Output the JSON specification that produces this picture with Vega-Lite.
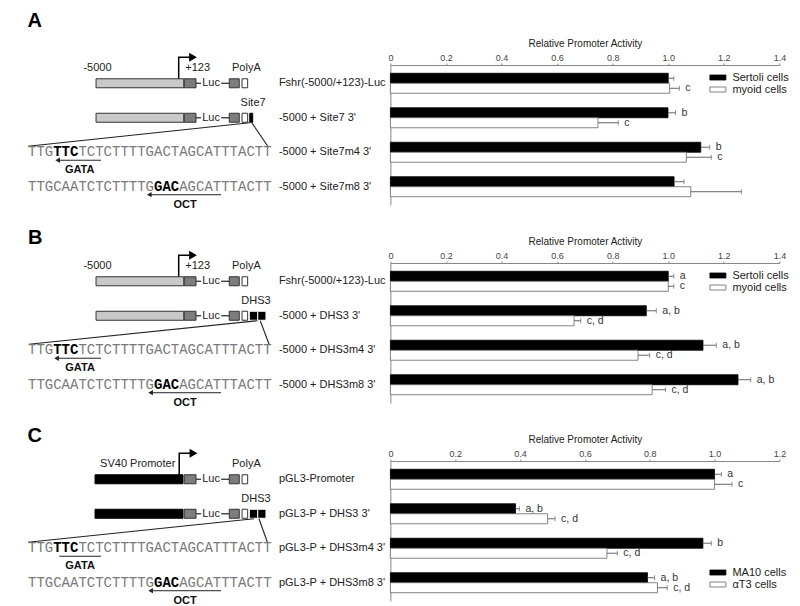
{
"$schema": "https://vega.github.io/schema/vega-lite/v6.json",
"padding": {"left": 27, "top": 10, "right": 18, "bottom": 4},
"columns": 2,
"bounds": "flush",
"spacing": {"row": 58, "column": 118.4},
"resolve": {"scale": {"fill": "independent", "stroke": "independent"}, "legend": {"fill": "independent", "stroke": "independent"}},
"config": {"view": {"stroke": null}, "font": "Liberation Sans",
  "axis": {"grid": false, "domainColor": "#888", "tickColor": "#888", "labelColor": "#444", "titleFontWeight": "normal", "titleColor": "#222"},
  "title": {"font": "Liberation Sans", "color": "#000"}},
"datasets": {
 "bars": [
  {"panel":"A","row":1,"construct":"Fshr(-5000/+123)-Luc","cell":"Sertoli cells","value":1.0,"hi":1.02,"sig":""},
  {"panel":"A","row":1,"construct":"Fshr(-5000/+123)-Luc","cell":"myoid cells","value":1.005,"hi":1.04,"sig":"c"},
  {"panel":"A","row":2,"construct":"-5000 + Site7 3'","cell":"Sertoli cells","value":0.999,"hi":1.026,"sig":"b"},
  {"panel":"A","row":2,"construct":"-5000 + Site7 3'","cell":"myoid cells","value":0.747,"hi":0.82,"sig":"c"},
  {"panel":"A","row":3,"construct":"-5000 + Site7m4 3'","cell":"Sertoli cells","value":1.117,"hi":1.149,"sig":"b"},
  {"panel":"A","row":3,"construct":"-5000 + Site7m4 3'","cell":"myoid cells","value":1.065,"hi":1.155,"sig":"c"},
  {"panel":"A","row":4,"construct":"-5000 + Site7m8 3'","cell":"Sertoli cells","value":1.021,"hi":1.057,"sig":""},
  {"panel":"A","row":4,"construct":"-5000 + Site7m8 3'","cell":"myoid cells","value":1.081,"hi":1.263,"sig":""},
  {"panel":"B","row":1,"construct":"Fshr(-5000/+123)-Luc","cell":"Sertoli cells","value":1.0,"hi":1.02,"sig":"a"},
  {"panel":"B","row":1,"construct":"Fshr(-5000/+123)-Luc","cell":"myoid cells","value":1.0,"hi":1.02,"sig":"c"},
  {"panel":"B","row":2,"construct":"-5000 + DHS3 3'","cell":"Sertoli cells","value":0.921,"hi":0.957,"sig":"a, b"},
  {"panel":"B","row":2,"construct":"-5000 + DHS3 3'","cell":"myoid cells","value":0.661,"hi":0.685,"sig":"c, d"},
  {"panel":"B","row":3,"construct":"-5000 + DHS3m4 3'","cell":"Sertoli cells","value":1.125,"hi":1.173,"sig":"a, b"},
  {"panel":"B","row":3,"construct":"-5000 + DHS3m4 3'","cell":"myoid cells","value":0.891,"hi":0.933,"sig":"c, d"},
  {"panel":"B","row":4,"construct":"-5000 + DHS3m8 3'","cell":"Sertoli cells","value":1.251,"hi":1.297,"sig":"a, b"},
  {"panel":"B","row":4,"construct":"-5000 + DHS3m8 3'","cell":"myoid cells","value":0.942,"hi":0.99,"sig":"c, d"},
  {"panel":"C","row":1,"construct":"pGL3-Promoter","cell":"MA10 cells","value":1.0,"hi":1.021,"sig":"a"},
  {"panel":"C","row":1,"construct":"pGL3-Promoter","cell":"αT3 cells","value":1.0,"hi":1.054,"sig":"c"},
  {"panel":"C","row":2,"construct":"pGL3-P + DHS3 3'","cell":"MA10 cells","value":0.386,"hi":0.398,"sig":"a, b"},
  {"panel":"C","row":2,"construct":"pGL3-P + DHS3 3'","cell":"αT3 cells","value":0.485,"hi":0.508,"sig":"c, d"},
  {"panel":"C","row":3,"construct":"pGL3-P + DHS3m4 3'","cell":"MA10 cells","value":0.964,"hi":0.99,"sig":"b"},
  {"panel":"C","row":3,"construct":"pGL3-P + DHS3m4 3'","cell":"αT3 cells","value":0.668,"hi":0.70,"sig":"c, d"},
  {"panel":"C","row":4,"construct":"pGL3-P + DHS3m8 3'","cell":"MA10 cells","value":0.793,"hi":0.815,"sig":"a, b"},
  {"panel":"C","row":4,"construct":"pGL3-P + DHS3m8 3'","cell":"αT3 cells","value":0.824,"hi":0.854,"sig":"c, d"}
 ],
 "boxes": [
  {"panel":"A","row":1,"part":"promoter","start":8.1,"end":18.55},
  {"panel":"A","row":1,"part":"utr","start":18.6,"end":20.0},
  {"panel":"A","row":1,"part":"utr","start":23.96,"end":25.15},
  {"panel":"A","row":1,"part":"polyA","start":25.48,"end":26.15},
  {"panel":"A","row":2,"part":"promoter","start":8.1,"end":18.55},
  {"panel":"A","row":2,"part":"utr","start":18.6,"end":20.0},
  {"panel":"A","row":2,"part":"utr","start":23.96,"end":25.15},
  {"panel":"A","row":2,"part":"polyA","start":25.48,"end":26.15},
  {"panel":"A","row":2,"part":"site","start":26.4,"end":26.75},
  {"panel":"B","row":1,"part":"promoter","start":8.1,"end":18.55},
  {"panel":"B","row":1,"part":"utr","start":18.6,"end":20.0},
  {"panel":"B","row":1,"part":"utr","start":23.96,"end":25.15},
  {"panel":"B","row":1,"part":"polyA","start":25.48,"end":26.15},
  {"panel":"B","row":2,"part":"promoter","start":8.1,"end":18.55},
  {"panel":"B","row":2,"part":"utr","start":18.6,"end":20.0},
  {"panel":"B","row":2,"part":"utr","start":23.96,"end":25.15},
  {"panel":"B","row":2,"part":"polyA","start":25.48,"end":26.15},
  {"panel":"B","row":2,"part":"dhs","start":26.35,"end":27.35},
  {"panel":"B","row":2,"part":"dhs","start":27.35,"end":28.33},
  {"panel":"C","row":1,"part":"sv40","start":7.98,"end":18.45},
  {"panel":"C","row":1,"part":"utr","start":18.6,"end":20.0},
  {"panel":"C","row":1,"part":"utr","start":23.96,"end":25.15},
  {"panel":"C","row":1,"part":"polyA","start":25.48,"end":26.15},
  {"panel":"C","row":2,"part":"sv40","start":7.98,"end":18.45},
  {"panel":"C","row":2,"part":"utr","start":18.6,"end":20.0},
  {"panel":"C","row":2,"part":"utr","start":23.96,"end":25.15},
  {"panel":"C","row":2,"part":"polyA","start":25.48,"end":26.15},
  {"panel":"C","row":2,"part":"dhs","start":26.35,"end":27.35},
  {"panel":"C","row":2,"part":"dhs","start":27.35,"end":28.33}
 ],
 "wires": [
  {"panel":"A","row":1,"start":20.0,"end":20.6},{"panel":"A","row":1,"start":23.0,"end":23.96},
  {"panel":"A","row":2,"start":20.0,"end":20.6},{"panel":"A","row":2,"start":23.0,"end":23.96},
  {"panel":"B","row":1,"start":20.0,"end":20.6},{"panel":"B","row":1,"start":23.0,"end":23.96},
  {"panel":"B","row":2,"start":20.0,"end":20.6},{"panel":"B","row":2,"start":23.0,"end":23.96},
  {"panel":"C","row":1,"start":20.0,"end":20.6},{"panel":"C","row":1,"start":23.0,"end":23.96},
  {"panel":"C","row":2,"start":20.0,"end":20.6},{"panel":"C","row":2,"start":23.0,"end":23.96}
 ],
 "notes": [
  {"panel":"A","row":1,"kind":"above","label":"-5000","pos":8.27},
  {"panel":"A","row":1,"kind":"above","label":"+123","pos":20.2},
  {"panel":"A","row":1,"kind":"above","label":"PolyA","pos":26.0},
  {"panel":"A","row":1,"kind":"luc","label":"Luc","pos":21.8},
  {"panel":"A","row":2,"kind":"above","label":"Site7","pos":26.8},
  {"panel":"A","row":2,"kind":"luc","label":"Luc","pos":21.8},
  {"panel":"B","row":1,"kind":"above","label":"-5000","pos":8.27},
  {"panel":"B","row":1,"kind":"above","label":"+123","pos":20.2},
  {"panel":"B","row":1,"kind":"above","label":"PolyA","pos":26.0},
  {"panel":"B","row":1,"kind":"luc","label":"Luc","pos":21.8},
  {"panel":"B","row":2,"kind":"above","label":"DHS3","pos":27.14},
  {"panel":"B","row":2,"kind":"luc","label":"Luc","pos":21.8},
  {"panel":"C","row":1,"kind":"above","label":"SV40 Promoter","pos":13.06},
  {"panel":"C","row":1,"kind":"above","label":"PolyA","pos":26.0},
  {"panel":"C","row":1,"kind":"luc","label":"Luc","pos":21.8},
  {"panel":"C","row":2,"kind":"above","label":"DHS3","pos":27.14},
  {"panel":"C","row":2,"kind":"luc","label":"Luc","pos":21.8}
 ],
 "tss": [
  {"panel":"A","row":1,"pos":17.94},{"panel":"B","row":1,"pos":17.94},{"panel":"C","row":1,"pos":18.0}
 ],
 "links": [
  {"panel":"A","row":2,"to":3,"start":26.4,"end":0},{"panel":"A","row":2,"to":3,"start":26.65,"end":28.55},
  {"panel":"B","row":2,"to":3,"start":27.3,"end":0.1},{"panel":"B","row":2,"to":3,"start":27.65,"end":28.7},
  {"panel":"C","row":2,"to":3,"start":26.9,"end":0},{"panel":"C","row":2,"to":3,"start":27.5,"end":28.5}
 ],
 "seqs": [
  {"panel":"A","row":3,"seg":"TTG","pos":0,"bold":false},{"panel":"A","row":3,"seg":"TTC","pos":3,"bold":true},{"panel":"A","row":3,"seg":"TCTCTTTTGACTAGCATTTACTT","pos":6,"bold":false},
  {"panel":"A","row":4,"seg":"TTGCAATCTCTTTTG","pos":0,"bold":false},{"panel":"A","row":4,"seg":"GAC","pos":15,"bold":true},{"panel":"A","row":4,"seg":"AGCATTTACTT","pos":18,"bold":false},
  {"panel":"B","row":3,"seg":"TTG","pos":0,"bold":false},{"panel":"B","row":3,"seg":"TTC","pos":3,"bold":true},{"panel":"B","row":3,"seg":"TCTCTTTTGACTAGCATTTACTT","pos":6,"bold":false},
  {"panel":"B","row":4,"seg":"TTGCAATCTCTTTTG","pos":0,"bold":false},{"panel":"B","row":4,"seg":"GAC","pos":15,"bold":true},{"panel":"B","row":4,"seg":"AGCATTTACTT","pos":18,"bold":false},
  {"panel":"C","row":3,"seg":"TTG","pos":0,"bold":false},{"panel":"C","row":3,"seg":"TTC","pos":3,"bold":true},{"panel":"C","row":3,"seg":"TCTCTTTTGACTAGCATTTACTT","pos":6,"bold":false},
  {"panel":"C","row":4,"seg":"TTGCAATCTCTTTTG","pos":0,"bold":false},{"panel":"C","row":4,"seg":"GAC","pos":15,"bold":true},{"panel":"C","row":4,"seg":"AGCATTTACTT","pos":18,"bold":false}
 ],
 "motifs": [
  {"panel":"A","row":3,"motif":"GATA","from":8.69,"to":3.53,"mid":6.15,"head":true},
  {"panel":"A","row":4,"motif":"OCT","from":22.98,"to":14.44,"mid":18.7,"head":true},
  {"panel":"B","row":3,"motif":"GATA","from":8.69,"to":3.4,"mid":6.2,"head":true},
  {"panel":"B","row":4,"motif":"OCT","from":22.98,"to":14.6,"mid":18.7,"head":true},
  {"panel":"C","row":3,"motif":"GATA","from":8.69,"to":3.73,"mid":6.2,"head":false},
  {"panel":"C","row":4,"motif":"OCT","from":22.98,"to":14.6,"mid":18.7,"head":true}
 ]
},
"concat": [
 {"width": 243.6, "height": 140,
  "title": {"text": "A", "anchor": "start", "fontSize": 20, "fontWeight": "bold", "offset": 22},
  "encoding": {"y": {"field": "row", "type": "ordinal", "scale": {"type": "band", "domain": [1,2,3,4], "paddingInner": 0.42, "paddingOuter": 0.24}, "axis": null}},
  "layer": [
   {"data": {"name": "tss"}, "transform": [{"filter": "datum.panel === 'A'"}], "mark": {"type": "point", "shape": "M0,0V-1H0.45", "filled": false, "size": 2704, "strokeWidth": 1.5, "color": "#000", "opacity": 1}, "encoding": {"x": {"field": "pos", "type": "quantitative", "scale": {"domain": [0, 29], "nice": false, "zero": false}, "axis": null}}},
   {"data": {"name": "tss"}, "transform": [{"filter": "datum.panel === 'A'"}], "mark": {"type": "point", "shape": "M0.4,-1.17L0.7,-1L0.4,-0.83Z", "filled": true, "size": 2704, "color": "#000", "opacity": 1}, "encoding": {"x": {"field": "pos", "type": "quantitative", "axis": null}}},
   {"data": {"name": "wires"}, "transform": [{"filter": "datum.panel === 'A'"}], "mark": {"type": "rule", "color": "#333", "strokeWidth": 1.3}, "encoding": {"x": {"field": "start", "type": "quantitative", "axis": null}, "x2": {"field": "end"}}},
   {"data": {"name": "boxes"}, "transform": [{"filter": "datum.panel === 'A'"}], "mark": {"type": "bar", "height": 9, "strokeWidth": 1}, "encoding": {"x": {"field": "start", "type": "quantitative", "axis": null}, "x2": {"field": "end"}, "fill": {"field": "part", "type": "nominal", "scale": {"domain": ["promoter","sv40","utr","polyA","site","dhs"], "range": ["#c9c9c9","#000000","#7d7d7d","#ffffff","#000000","#000000"]}, "legend": null}, "stroke": {"field": "part", "type": "nominal", "scale": {"domain": ["promoter","sv40","utr","polyA","site","dhs"], "range": ["#333333","#000000","#333333","#333333","#000000","#ffffff"]}, "legend": null}}},
   {"data": {"name": "notes"}, "transform": [{"filter": "datum.panel === 'A' && datum.kind === 'above'"}], "mark": {"type": "text", "dy": -15, "fontSize": 11, "color": "#222"}, "encoding": {"x": {"field": "pos", "type": "quantitative", "axis": null}, "text": {"field": "label"}}},
   {"data": {"name": "notes"}, "transform": [{"filter": "datum.panel === 'A' && datum.kind === 'luc'"}], "mark": {"type": "text", "fontSize": 11, "color": "#222"}, "encoding": {"x": {"field": "pos", "type": "quantitative", "axis": null}, "text": {"field": "label"}}},
   {"data": {"name": "links"}, "transform": [{"filter": "datum.panel === 'A'"}], "mark": {"type": "rule", "color": "#222", "strokeWidth": 1.1, "yOffset": 5, "y2Offset": -6}, "encoding": {"x": {"field": "start", "type": "quantitative", "axis": null}, "x2": {"field": "end"}, "y2": {"field": "to"}}},
   {"data": {"name": "seqs"}, "transform": [{"filter": "datum.panel === 'A' && !datum.bold"}], "mark": {"type": "text", "font": "Liberation Mono", "fontSize": 14, "align": "left", "baseline": "middle", "color": "#7a7a7a"}, "encoding": {"x": {"field": "pos", "type": "quantitative", "axis": null}, "text": {"field": "seg"}}},
   {"data": {"name": "seqs"}, "transform": [{"filter": "datum.panel === 'A' && datum.bold"}], "mark": {"type": "text", "font": "Liberation Mono", "fontSize": 14, "fontWeight": "bold", "align": "left", "baseline": "middle", "color": "#000"}, "encoding": {"x": {"field": "pos", "type": "quantitative", "axis": null}, "text": {"field": "seg"}}},
   {"data": {"name": "motifs"}, "transform": [{"filter": "datum.panel === 'A'"}], "mark": {"type": "rule", "color": "#222", "strokeWidth": 1, "yOffset": 8}, "encoding": {"x": {"field": "from", "type": "quantitative", "axis": null}, "x2": {"field": "to"}}},
   {"data": {"name": "motifs"}, "transform": [{"filter": "datum.panel === 'A' && datum.head"}], "mark": {"type": "point", "shape": "triangle-left", "filled": true, "size": 28, "color": "#222", "opacity": 1, "yOffset": 8}, "encoding": {"x": {"field": "to", "type": "quantitative", "axis": null}}},
   {"data": {"name": "motifs"}, "transform": [{"filter": "datum.panel === 'A'"}], "mark": {"type": "text", "dy": 18, "fontSize": 11, "fontWeight": "bold", "color": "#111"}, "encoding": {"x": {"field": "mid", "type": "quantitative", "axis": null}, "text": {"field": "motif"}}}
  ]},
 {"width": 389, "height": 140,
  "data": {"name": "bars"},
  "transform": [{"filter": "datum.panel === 'A'"}],
  "encoding": {
   "y": {"field": "construct", "type": "nominal", "sort": {"field": "row", "op": "min"}, "scale": {"type": "band", "paddingInner": 0.42, "paddingOuter": 0.24}, "axis": {"title": null, "ticks": false, "tickSize": 0, "labelAlign": "left", "labelPadding": 112, "labelFontSize": 11, "labelColor": "#222", "labelLimit": 200}}
  },
  "layer": [
   {"transform": [{"filter": "datum.cell === 'Sertoli cells'"}], "mark": {"type": "bar", "height": 10, "yOffset": -5, "strokeWidth": 0.8}, "encoding": {
     "x": {"field": "value", "type": "quantitative", "scale": {"domain": [0, 1.4], "nice": false}, "axis": {"orient": "top", "title": "Relative Promoter Activity", "values": [0,0.2,0.4,0.6,0.8,1,1.2,1.4], "labelExpr": "datum.value === 0 ? '0' : format(datum.value, '.1f')", "labelFontSize": 9, "titleFontSize": 10, "tickSize": 2, "labelPadding": 1, "titlePadding": 5, "labelFlush": false}},
     "fill": {"field": "cell", "type": "nominal", "scale": {"domain": ["Sertoli cells","myoid cells"], "range": ["#000000","#ffffff"]}, "legend": {"title": null, "orient": "none", "legendX": 322, "legendY": 7, "labelFontSize": 11, "labelColor": "#222", "symbolType": "M-1.6,-0.5H1.6V0.5H-1.6Z", "symbolSize": 100, "symbolStrokeColor": "#444", "symbolStrokeWidth": 0.8, "labelOffset": 9, "rowPadding": 0, "padding": 0}},
     "stroke": {"field": "cell", "type": "nominal", "scale": {"domain": ["Sertoli cells","myoid cells"], "range": ["#000000","#666666"]}, "legend": null}}},
   {"transform": [{"filter": "datum.cell === 'myoid cells'"}], "mark": {"type": "bar", "height": 10, "yOffset": 5, "strokeWidth": 0.8}, "encoding": {
     "x": {"field": "value", "type": "quantitative"},
     "fill": {"field": "cell", "type": "nominal", "scale": {"domain": ["Sertoli cells","myoid cells"], "range": ["#000000","#ffffff"]}, "legend": {"title": null, "orient": "none", "legendX": 322, "legendY": 7, "labelFontSize": 11, "labelColor": "#222", "symbolType": "M-1.6,-0.5H1.6V0.5H-1.6Z", "symbolSize": 100, "symbolStrokeColor": "#444", "symbolStrokeWidth": 0.8, "labelOffset": 9, "rowPadding": 0, "padding": 0}},
     "stroke": {"field": "cell", "type": "nominal", "scale": {"domain": ["Sertoli cells","myoid cells"], "range": ["#000000","#666666"]}, "legend": null}}},
   {"transform": [{"filter": "datum.cell === 'Sertoli cells'"}], "mark": {"type": "rule", "color": "#666", "yOffset": -5}, "encoding": {"x": {"field": "value", "type": "quantitative"}, "x2": {"field": "hi"}}},
   {"transform": [{"filter": "datum.cell === 'myoid cells'"}], "mark": {"type": "rule", "color": "#666", "yOffset": 5}, "encoding": {"x": {"field": "value", "type": "quantitative"}, "x2": {"field": "hi"}}},
   {"transform": [{"filter": "datum.cell === 'Sertoli cells'"}], "mark": {"type": "tick", "size": 5, "thickness": 1, "color": "#666", "yOffset": -5}, "encoding": {"x": {"field": "hi", "type": "quantitative"}}},
   {"transform": [{"filter": "datum.cell === 'myoid cells'"}], "mark": {"type": "tick", "size": 5, "thickness": 1, "color": "#666", "yOffset": 5}, "encoding": {"x": {"field": "hi", "type": "quantitative"}}},
   {"transform": [{"filter": "datum.cell === 'Sertoli cells'"}], "mark": {"type": "text", "align": "left", "baseline": "middle", "dx": 6, "dy": -5, "fontSize": 10.5, "color": "#333"}, "encoding": {"x": {"field": "hi", "type": "quantitative"}, "text": {"field": "sig"}}},
   {"transform": [{"filter": "datum.cell === 'myoid cells'"}], "mark": {"type": "text", "align": "left", "baseline": "middle", "dx": 6, "dy": 5, "fontSize": 10.5, "color": "#333"}, "encoding": {"x": {"field": "hi", "type": "quantitative"}, "text": {"field": "sig"}}}
  ]},
 {"width": 243.6, "height": 140,
  "title": {"text": "B", "anchor": "start", "fontSize": 20, "fontWeight": "bold", "offset": 3},
  "encoding": {"y": {"field": "row", "type": "ordinal", "scale": {"type": "band", "domain": [1,2,3,4], "paddingInner": 0.42, "paddingOuter": 0.24}, "axis": null}},
  "layer": [
   {"data": {"name": "tss"}, "transform": [{"filter": "datum.panel === 'B'"}], "mark": {"type": "point", "shape": "M0,0V-1H0.45", "filled": false, "size": 2704, "strokeWidth": 1.5, "color": "#000", "opacity": 1}, "encoding": {"x": {"field": "pos", "type": "quantitative", "scale": {"domain": [0, 29], "nice": false, "zero": false}, "axis": null}}},
   {"data": {"name": "tss"}, "transform": [{"filter": "datum.panel === 'B'"}], "mark": {"type": "point", "shape": "M0.4,-1.17L0.7,-1L0.4,-0.83Z", "filled": true, "size": 2704, "color": "#000", "opacity": 1}, "encoding": {"x": {"field": "pos", "type": "quantitative", "axis": null}}},
   {"data": {"name": "wires"}, "transform": [{"filter": "datum.panel === 'B'"}], "mark": {"type": "rule", "color": "#333", "strokeWidth": 1.3}, "encoding": {"x": {"field": "start", "type": "quantitative", "axis": null}, "x2": {"field": "end"}}},
   {"data": {"name": "boxes"}, "transform": [{"filter": "datum.panel === 'B'"}], "mark": {"type": "bar", "height": 9, "strokeWidth": 1}, "encoding": {"x": {"field": "start", "type": "quantitative", "axis": null}, "x2": {"field": "end"}, "fill": {"field": "part", "type": "nominal", "scale": {"domain": ["promoter","sv40","utr","polyA","site","dhs"], "range": ["#c9c9c9","#000000","#7d7d7d","#ffffff","#000000","#000000"]}, "legend": null}, "stroke": {"field": "part", "type": "nominal", "scale": {"domain": ["promoter","sv40","utr","polyA","site","dhs"], "range": ["#333333","#000000","#333333","#333333","#000000","#ffffff"]}, "legend": null}}},
   {"data": {"name": "notes"}, "transform": [{"filter": "datum.panel === 'B' && datum.kind === 'above'"}], "mark": {"type": "text", "dy": -15, "fontSize": 11, "color": "#222"}, "encoding": {"x": {"field": "pos", "type": "quantitative", "axis": null}, "text": {"field": "label"}}},
   {"data": {"name": "notes"}, "transform": [{"filter": "datum.panel === 'B' && datum.kind === 'luc'"}], "mark": {"type": "text", "fontSize": 11, "color": "#222"}, "encoding": {"x": {"field": "pos", "type": "quantitative", "axis": null}, "text": {"field": "label"}}},
   {"data": {"name": "links"}, "transform": [{"filter": "datum.panel === 'B'"}], "mark": {"type": "rule", "color": "#222", "strokeWidth": 1.1, "yOffset": 5, "y2Offset": -6}, "encoding": {"x": {"field": "start", "type": "quantitative", "axis": null}, "x2": {"field": "end"}, "y2": {"field": "to"}}},
   {"data": {"name": "seqs"}, "transform": [{"filter": "datum.panel === 'B' && !datum.bold"}], "mark": {"type": "text", "font": "Liberation Mono", "fontSize": 14, "align": "left", "baseline": "middle", "color": "#7a7a7a"}, "encoding": {"x": {"field": "pos", "type": "quantitative", "axis": null}, "text": {"field": "seg"}}},
   {"data": {"name": "seqs"}, "transform": [{"filter": "datum.panel === 'B' && datum.bold"}], "mark": {"type": "text", "font": "Liberation Mono", "fontSize": 14, "fontWeight": "bold", "align": "left", "baseline": "middle", "color": "#000"}, "encoding": {"x": {"field": "pos", "type": "quantitative", "axis": null}, "text": {"field": "seg"}}},
   {"data": {"name": "motifs"}, "transform": [{"filter": "datum.panel === 'B'"}], "mark": {"type": "rule", "color": "#222", "strokeWidth": 1, "yOffset": 8}, "encoding": {"x": {"field": "from", "type": "quantitative", "axis": null}, "x2": {"field": "to"}}},
   {"data": {"name": "motifs"}, "transform": [{"filter": "datum.panel === 'B' && datum.head"}], "mark": {"type": "point", "shape": "triangle-left", "filled": true, "size": 28, "color": "#222", "opacity": 1, "yOffset": 8}, "encoding": {"x": {"field": "to", "type": "quantitative", "axis": null}}},
   {"data": {"name": "motifs"}, "transform": [{"filter": "datum.panel === 'B'"}], "mark": {"type": "text", "dy": 18, "fontSize": 11, "fontWeight": "bold", "color": "#111"}, "encoding": {"x": {"field": "mid", "type": "quantitative", "axis": null}, "text": {"field": "motif"}}}
  ]},
 {"width": 389, "height": 140,
  "data": {"name": "bars"},
  "transform": [{"filter": "datum.panel === 'B'"}],
  "encoding": {
   "y": {"field": "construct", "type": "nominal", "sort": {"field": "row", "op": "min"}, "scale": {"type": "band", "paddingInner": 0.42, "paddingOuter": 0.24}, "axis": {"title": null, "ticks": false, "tickSize": 0, "labelAlign": "left", "labelPadding": 112, "labelFontSize": 11, "labelColor": "#222", "labelLimit": 200}}
  },
  "layer": [
   {"transform": [{"filter": "datum.cell === 'Sertoli cells'"}], "mark": {"type": "bar", "height": 10, "yOffset": -5, "strokeWidth": 0.8}, "encoding": {
     "x": {"field": "value", "type": "quantitative", "scale": {"domain": [0, 1.4], "nice": false}, "axis": {"orient": "top", "title": "Relative Promoter Activity", "values": [0,0.2,0.4,0.6,0.8,1,1.2,1.4], "labelExpr": "datum.value === 0 ? '0' : format(datum.value, '.1f')", "labelFontSize": 9, "titleFontSize": 10, "tickSize": 2, "labelPadding": 1, "titlePadding": 5, "labelFlush": false}},
     "fill": {"field": "cell", "type": "nominal", "scale": {"domain": ["Sertoli cells","myoid cells"], "range": ["#000000","#ffffff"]}, "legend": {"title": null, "orient": "none", "legendX": 322, "legendY": 7, "labelFontSize": 11, "labelColor": "#222", "symbolType": "M-1.6,-0.5H1.6V0.5H-1.6Z", "symbolSize": 100, "symbolStrokeColor": "#444", "symbolStrokeWidth": 0.8, "labelOffset": 9, "rowPadding": 0, "padding": 0}},
     "stroke": {"field": "cell", "type": "nominal", "scale": {"domain": ["Sertoli cells","myoid cells"], "range": ["#000000","#666666"]}, "legend": null}}},
   {"transform": [{"filter": "datum.cell === 'myoid cells'"}], "mark": {"type": "bar", "height": 10, "yOffset": 5, "strokeWidth": 0.8}, "encoding": {
     "x": {"field": "value", "type": "quantitative"},
     "fill": {"field": "cell", "type": "nominal", "scale": {"domain": ["Sertoli cells","myoid cells"], "range": ["#000000","#ffffff"]}, "legend": {"title": null, "orient": "none", "legendX": 322, "legendY": 7, "labelFontSize": 11, "labelColor": "#222", "symbolType": "M-1.6,-0.5H1.6V0.5H-1.6Z", "symbolSize": 100, "symbolStrokeColor": "#444", "symbolStrokeWidth": 0.8, "labelOffset": 9, "rowPadding": 0, "padding": 0}},
     "stroke": {"field": "cell", "type": "nominal", "scale": {"domain": ["Sertoli cells","myoid cells"], "range": ["#000000","#666666"]}, "legend": null}}},
   {"transform": [{"filter": "datum.cell === 'Sertoli cells'"}], "mark": {"type": "rule", "color": "#666", "yOffset": -5}, "encoding": {"x": {"field": "value", "type": "quantitative"}, "x2": {"field": "hi"}}},
   {"transform": [{"filter": "datum.cell === 'myoid cells'"}], "mark": {"type": "rule", "color": "#666", "yOffset": 5}, "encoding": {"x": {"field": "value", "type": "quantitative"}, "x2": {"field": "hi"}}},
   {"transform": [{"filter": "datum.cell === 'Sertoli cells'"}], "mark": {"type": "tick", "size": 5, "thickness": 1, "color": "#666", "yOffset": -5}, "encoding": {"x": {"field": "hi", "type": "quantitative"}}},
   {"transform": [{"filter": "datum.cell === 'myoid cells'"}], "mark": {"type": "tick", "size": 5, "thickness": 1, "color": "#666", "yOffset": 5}, "encoding": {"x": {"field": "hi", "type": "quantitative"}}},
   {"transform": [{"filter": "datum.cell === 'Sertoli cells'"}], "mark": {"type": "text", "align": "left", "baseline": "middle", "dx": 6, "dy": -5, "fontSize": 10.5, "color": "#333"}, "encoding": {"x": {"field": "hi", "type": "quantitative"}, "text": {"field": "sig"}}},
   {"transform": [{"filter": "datum.cell === 'myoid cells'"}], "mark": {"type": "text", "align": "left", "baseline": "middle", "dx": 6, "dy": 5, "fontSize": 10.5, "color": "#333"}, "encoding": {"x": {"field": "hi", "type": "quantitative"}, "text": {"field": "sig"}}}
  ]},
 {"width": 243.6, "height": 140,
  "title": {"text": "C", "anchor": "start", "fontSize": 20, "fontWeight": "bold", "offset": 3},
  "encoding": {"y": {"field": "row", "type": "ordinal", "scale": {"type": "band", "domain": [1,2,3,4], "paddingInner": 0.42, "paddingOuter": 0.24}, "axis": null}},
  "layer": [
   {"data": {"name": "tss"}, "transform": [{"filter": "datum.panel === 'C'"}], "mark": {"type": "point", "shape": "M0,0V-1H0.45", "filled": false, "size": 2704, "strokeWidth": 1.5, "color": "#000", "opacity": 1}, "encoding": {"x": {"field": "pos", "type": "quantitative", "scale": {"domain": [0, 29], "nice": false, "zero": false}, "axis": null}}},
   {"data": {"name": "tss"}, "transform": [{"filter": "datum.panel === 'C'"}], "mark": {"type": "point", "shape": "M0.4,-1.17L0.7,-1L0.4,-0.83Z", "filled": true, "size": 2704, "color": "#000", "opacity": 1}, "encoding": {"x": {"field": "pos", "type": "quantitative", "axis": null}}},
   {"data": {"name": "wires"}, "transform": [{"filter": "datum.panel === 'C'"}], "mark": {"type": "rule", "color": "#333", "strokeWidth": 1.3}, "encoding": {"x": {"field": "start", "type": "quantitative", "axis": null}, "x2": {"field": "end"}}},
   {"data": {"name": "boxes"}, "transform": [{"filter": "datum.panel === 'C'"}], "mark": {"type": "bar", "height": 9, "strokeWidth": 1}, "encoding": {"x": {"field": "start", "type": "quantitative", "axis": null}, "x2": {"field": "end"}, "fill": {"field": "part", "type": "nominal", "scale": {"domain": ["promoter","sv40","utr","polyA","site","dhs"], "range": ["#c9c9c9","#000000","#7d7d7d","#ffffff","#000000","#000000"]}, "legend": null}, "stroke": {"field": "part", "type": "nominal", "scale": {"domain": ["promoter","sv40","utr","polyA","site","dhs"], "range": ["#333333","#000000","#333333","#333333","#000000","#ffffff"]}, "legend": null}}},
   {"data": {"name": "notes"}, "transform": [{"filter": "datum.panel === 'C' && datum.kind === 'above'"}], "mark": {"type": "text", "dy": -15, "fontSize": 11, "color": "#222"}, "encoding": {"x": {"field": "pos", "type": "quantitative", "axis": null}, "text": {"field": "label"}}},
   {"data": {"name": "notes"}, "transform": [{"filter": "datum.panel === 'C' && datum.kind === 'luc'"}], "mark": {"type": "text", "fontSize": 11, "color": "#222"}, "encoding": {"x": {"field": "pos", "type": "quantitative", "axis": null}, "text": {"field": "label"}}},
   {"data": {"name": "links"}, "transform": [{"filter": "datum.panel === 'C'"}], "mark": {"type": "rule", "color": "#222", "strokeWidth": 1.1, "yOffset": 5, "y2Offset": -6}, "encoding": {"x": {"field": "start", "type": "quantitative", "axis": null}, "x2": {"field": "end"}, "y2": {"field": "to"}}},
   {"data": {"name": "seqs"}, "transform": [{"filter": "datum.panel === 'C' && !datum.bold"}], "mark": {"type": "text", "font": "Liberation Mono", "fontSize": 14, "align": "left", "baseline": "middle", "color": "#7a7a7a"}, "encoding": {"x": {"field": "pos", "type": "quantitative", "axis": null}, "text": {"field": "seg"}}},
   {"data": {"name": "seqs"}, "transform": [{"filter": "datum.panel === 'C' && datum.bold"}], "mark": {"type": "text", "font": "Liberation Mono", "fontSize": 14, "fontWeight": "bold", "align": "left", "baseline": "middle", "color": "#000"}, "encoding": {"x": {"field": "pos", "type": "quantitative", "axis": null}, "text": {"field": "seg"}}},
   {"data": {"name": "motifs"}, "transform": [{"filter": "datum.panel === 'C'"}], "mark": {"type": "rule", "color": "#222", "strokeWidth": 1, "yOffset": 8}, "encoding": {"x": {"field": "from", "type": "quantitative", "axis": null}, "x2": {"field": "to"}}},
   {"data": {"name": "motifs"}, "transform": [{"filter": "datum.panel === 'C' && datum.head"}], "mark": {"type": "point", "shape": "triangle-left", "filled": true, "size": 28, "color": "#222", "opacity": 1, "yOffset": 8}, "encoding": {"x": {"field": "to", "type": "quantitative", "axis": null}}},
   {"data": {"name": "motifs"}, "transform": [{"filter": "datum.panel === 'C'"}], "mark": {"type": "text", "dy": 18, "fontSize": 11, "fontWeight": "bold", "color": "#111"}, "encoding": {"x": {"field": "mid", "type": "quantitative", "axis": null}, "text": {"field": "motif"}}}
  ]},
 {"width": 389, "height": 140,
  "data": {"name": "bars"},
  "transform": [{"filter": "datum.panel === 'C'"}],
  "encoding": {
   "y": {"field": "construct", "type": "nominal", "sort": {"field": "row", "op": "min"}, "scale": {"type": "band", "paddingInner": 0.42, "paddingOuter": 0.24}, "axis": {"title": null, "ticks": false, "tickSize": 0, "labelAlign": "left", "labelPadding": 112, "labelFontSize": 11, "labelColor": "#222", "labelLimit": 200}}
  },
  "layer": [
   {"transform": [{"filter": "datum.cell === 'MA10 cells'"}], "mark": {"type": "bar", "height": 10, "yOffset": -5, "strokeWidth": 0.8}, "encoding": {
     "x": {"field": "value", "type": "quantitative", "scale": {"domain": [0, 1.2], "nice": false}, "axis": {"orient": "top", "title": "Relative Promoter Activity", "values": [0,0.2,0.4,0.6,0.8,1,1.2], "labelExpr": "datum.value === 0 ? '0' : format(datum.value, '.1f')", "labelFontSize": 9, "titleFontSize": 10, "tickSize": 2, "labelPadding": 1, "titlePadding": 5, "labelFlush": false}},
     "fill": {"field": "cell", "type": "nominal", "scale": {"domain": ["MA10 cells","αT3 cells"], "range": ["#000000","#ffffff"]}, "legend": {"title": null, "orient": "none", "legendX": 322, "legendY": 106, "labelFontSize": 11, "labelColor": "#222", "symbolType": "M-1.6,-0.5H1.6V0.5H-1.6Z", "symbolSize": 100, "symbolStrokeColor": "#444", "symbolStrokeWidth": 0.8, "labelOffset": 9, "rowPadding": 0, "padding": 0}},
     "stroke": {"field": "cell", "type": "nominal", "scale": {"domain": ["MA10 cells","αT3 cells"], "range": ["#000000","#666666"]}, "legend": null}}},
   {"transform": [{"filter": "datum.cell === 'αT3 cells'"}], "mark": {"type": "bar", "height": 10, "yOffset": 5, "strokeWidth": 0.8}, "encoding": {
     "x": {"field": "value", "type": "quantitative"},
     "fill": {"field": "cell", "type": "nominal", "scale": {"domain": ["MA10 cells","αT3 cells"], "range": ["#000000","#ffffff"]}, "legend": {"title": null, "orient": "none", "legendX": 322, "legendY": 106, "labelFontSize": 11, "labelColor": "#222", "symbolType": "M-1.6,-0.5H1.6V0.5H-1.6Z", "symbolSize": 100, "symbolStrokeColor": "#444", "symbolStrokeWidth": 0.8, "labelOffset": 9, "rowPadding": 0, "padding": 0}},
     "stroke": {"field": "cell", "type": "nominal", "scale": {"domain": ["MA10 cells","αT3 cells"], "range": ["#000000","#666666"]}, "legend": null}}},
   {"transform": [{"filter": "datum.cell === 'MA10 cells'"}], "mark": {"type": "rule", "color": "#666", "yOffset": -5}, "encoding": {"x": {"field": "value", "type": "quantitative"}, "x2": {"field": "hi"}}},
   {"transform": [{"filter": "datum.cell === 'αT3 cells'"}], "mark": {"type": "rule", "color": "#666", "yOffset": 5}, "encoding": {"x": {"field": "value", "type": "quantitative"}, "x2": {"field": "hi"}}},
   {"transform": [{"filter": "datum.cell === 'MA10 cells'"}], "mark": {"type": "tick", "size": 5, "thickness": 1, "color": "#666", "yOffset": -5}, "encoding": {"x": {"field": "hi", "type": "quantitative"}}},
   {"transform": [{"filter": "datum.cell === 'αT3 cells'"}], "mark": {"type": "tick", "size": 5, "thickness": 1, "color": "#666", "yOffset": 5}, "encoding": {"x": {"field": "hi", "type": "quantitative"}}},
   {"transform": [{"filter": "datum.cell === 'MA10 cells'"}], "mark": {"type": "text", "align": "left", "baseline": "middle", "dx": 6, "dy": -5, "fontSize": 10.5, "color": "#333"}, "encoding": {"x": {"field": "hi", "type": "quantitative"}, "text": {"field": "sig"}}},
   {"transform": [{"filter": "datum.cell === 'αT3 cells'"}], "mark": {"type": "text", "align": "left", "baseline": "middle", "dx": 6, "dy": 5, "fontSize": 10.5, "color": "#333"}, "encoding": {"x": {"field": "hi", "type": "quantitative"}, "text": {"field": "sig"}}}
  ]}
]
}
